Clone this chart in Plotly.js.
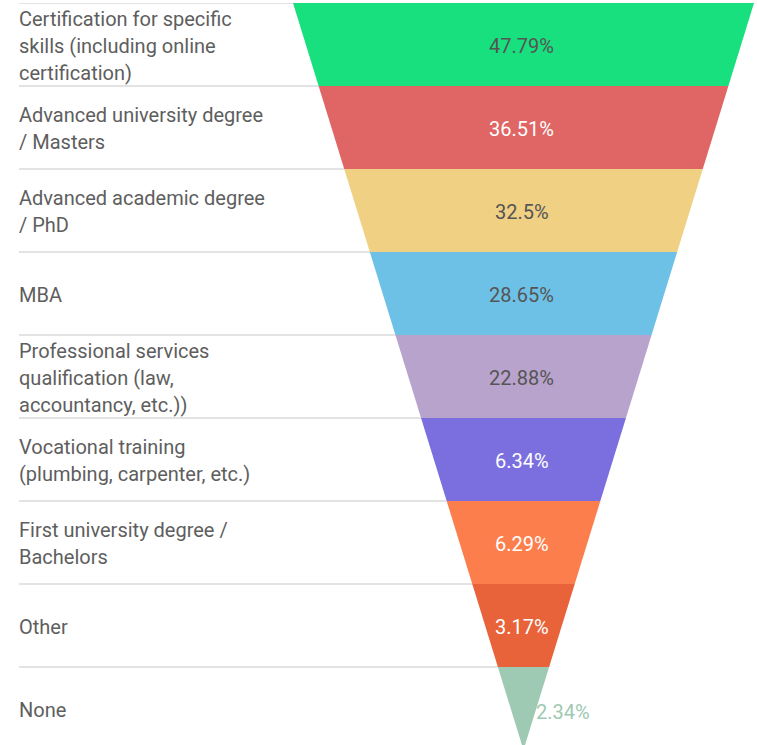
<!DOCTYPE html>
<html>
<head>
<meta charset="utf-8">
<script src="https://cdn.plot.ly/plotly-3.0.1.min.js"></script>
<style>html,body{margin:0;padding:0;background:#fff;}#chart{width:757px;height:745px;}</style>
</head>
<body>
<div id="chart"></div>
<script>
const categories = [
  "Certification for specific<br>skills (including online<br>certification)",
  "Advanced university degree<br>/ Masters",
  "Advanced academic degree<br>/ PhD",
  "MBA",
  "Professional services<br>qualification (law,<br>accountancy, etc.))",
  "Vocational training<br>(plumbing, carpenter, etc.)",
  "First university degree /<br>Bachelors",
  "Other",
  "None"
];
const values = [47.79, 36.51, 32.5, 28.65, 22.88, 6.34, 6.29, 3.17, 2.34];
const valueLabels = ["47.79%", "36.51%", "32.5%", "28.65%", "22.88%", "6.34%", "6.29%", "3.17%", "2.34%"];
const colors = ["#18E07F", "#E06666", "#F0D083", "#6DC1E6", "#B8A3CC", "#7B6FE0", "#FC7E4D", "#E8623A", "#9EC9B3"];
const textColors = ["#555555", "#FFFFFF", "#555555", "#555555", "#555555", "#FFFFFF", "#FFFFFF", "#FFFFFF", "#9EC9B3"];

const N = categories.length;
const W = 757, H = 745;
const mt = 3, mb = 0;
const pxPerY = 83;
const pxPerX = 230.5;
const cx = 523.5;
const yMax = (H - mt - mb) / pxPerY;
const xMin = -cx / pxPerX, xMax = (W - cx) / pxPerX;
const labelX = (19 - cx) / pxPerX;

const hw = i => (N - i) / N;
const traces = [];
for (let i = 0; i < N; i++) {
  const a = hw(i), b = hw(i + 1);
  traces.push({
    type: 'scatter', mode: 'lines', fill: 'toself',
    x: [-a, a, b, -b, -a], y: [i, i, i + 1, i + 1, i],
    fillcolor: colors[i], line: {width: 0, color: colors[i]},
    hoverinfo: 'skip', showlegend: false
  });
}

const shapes = [];
for (let i = 0; i < N; i++) {
  shapes.push({type: 'line', layer: 'below', xref: 'x', yref: 'y', x0: labelX, x1: 0, y0: i, y1: i,
    line: {color: '#DADADA', width: 1.5}});
}

const annotations = [];
categories.forEach((c, i) => {
  const lines = c.split('<br>');
  lines.forEach((t, j) => {
    annotations.push({x: labelX, y: i + 0.5, xref: 'x', yref: 'y', text: t, showarrow: false,
      xanchor: 'left', yanchor: 'middle', xshift: -2, yshift: -(j - (lines.length - 1) / 2) * 27 - 1,
      font: {family: 'Roboto', size: 20, weight: 400, color: '#5E5E5E'}});
  });
});
valueLabels.forEach((t, i) => {
  const last = i === N - 1;
  annotations.push({x: last ? hw(i + 0.5) : 0, y: i + 0.5, xref: 'x', yref: 'y', text: t, showarrow: false,
    xanchor: last ? 'left' : 'center', yanchor: 'middle', xshift: -2, yshift: last ? -3 : -1,
    font: {family: 'Roboto', size: 20, weight: 400, color: textColors[i]}});
});

Plotly.newPlot('chart', traces, {
  width: W, height: H,
  margin: {l: 0, r: 0, t: mt, b: mb, pad: 0},
  paper_bgcolor: '#fff', plot_bgcolor: '#fff',
  xaxis: {range: [xMin, xMax], visible: false, fixedrange: true},
  yaxis: {range: [yMax, 0], visible: false, fixedrange: true},
  shapes: shapes, annotations: annotations, showlegend: false
}, {displayModeBar: false, staticPlot: true});
</script>
</body>
</html>
